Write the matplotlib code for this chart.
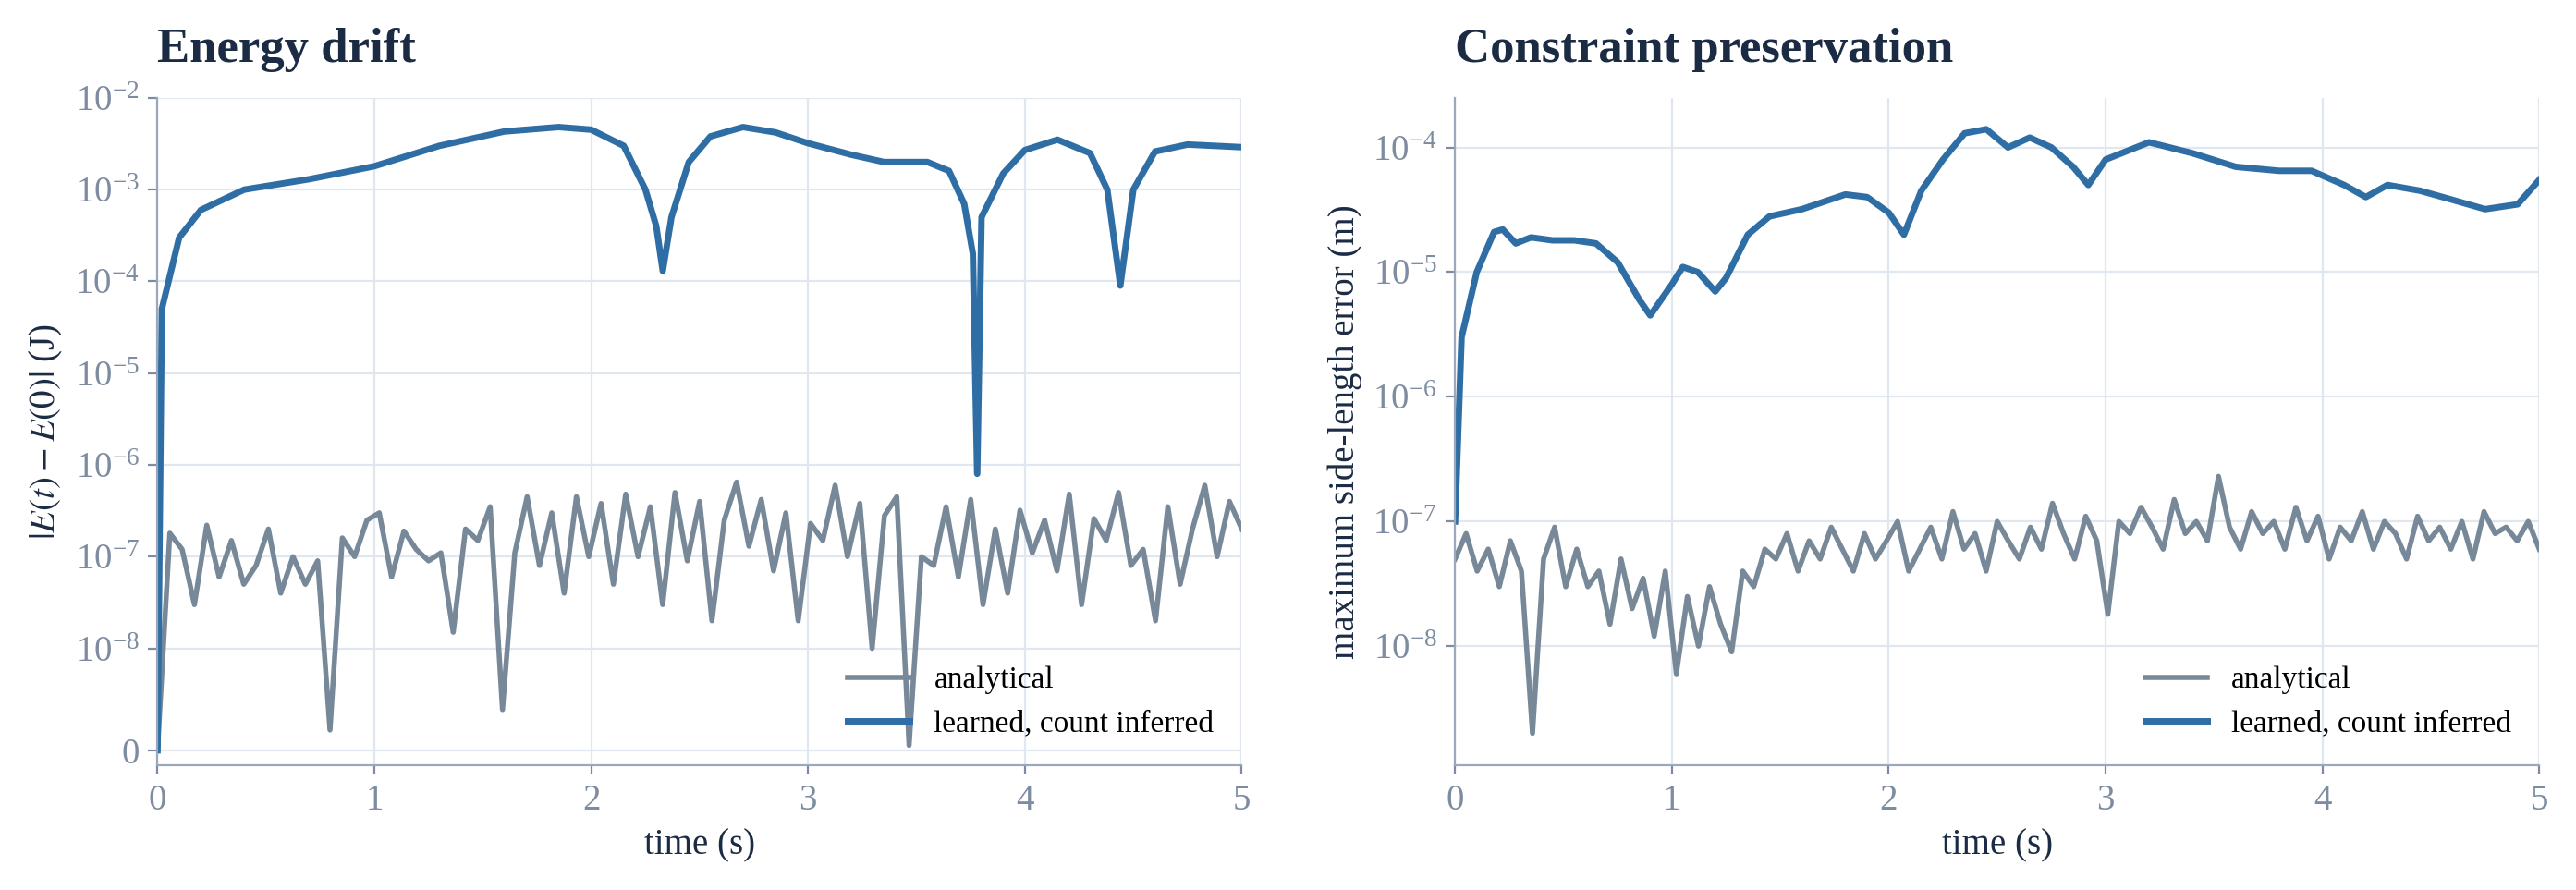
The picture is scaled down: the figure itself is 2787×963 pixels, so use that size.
import matplotlib
matplotlib.use("Agg")
import matplotlib.pyplot as plt
import numpy as np

plt.rcParams["font.family"] = ["Liberation Serif", "DejaVu Serif"]
plt.rcParams["mathtext.fontset"] = "stix"

BLUE = "#2f6ea5"
GRAY = "#778899"
NAVY = "#1b2b44"
TICK = "#7d8ca0"

# energy drift, learned model
e_t = [0, 0.02, 0.1, 0.2, 0.4, 0.7, 1.0, 1.3, 1.6, 1.85, 2.0, 2.15, 2.25, 2.3, 2.33, 2.37, 2.45,
       2.55, 2.7, 2.85, 3.0, 3.2, 3.35, 3.55, 3.65, 3.72, 3.76, 3.78, 3.8, 3.9, 4.0, 4.15, 4.3,
       4.38, 4.44, 4.5, 4.6, 4.75, 5.0]
e_learned = [0, 5e-5, 3e-4, 6e-4, 1e-3, 1.3e-3, 1.8e-3, 3e-3, 4.3e-3, 4.8e-3, 4.5e-3, 3e-3, 1e-3,
             4e-4, 1.3e-4, 5e-4, 2e-3, 3.8e-3, 4.8e-3, 4.2e-3, 3.2e-3, 2.4e-3, 2.0e-3, 2.0e-3,
             1.6e-3, 7e-4, 2e-4, 8e-7, 5e-4, 1.5e-3, 2.7e-3, 3.5e-3, 2.5e-3, 1e-3, 9e-5, 1e-3,
             2.6e-3, 3.1e-3, 2.9e-3]
# energy drift, analytical (units of 1e-7 J)
e_an = [0, 1.8, 1.2, 0.3, 2.2, 0.6, 1.5, 0.5, 0.8, 2.0, 0.4, 1.0, 0.5, 0.9,
        0.02,
        1.6, 1.0, 2.5, 3.0, 0.6, 1.9, 1.2, 0.9, 1.1, 0.15, 2.0, 1.5, 3.5,
        0.04,
        1.1, 4.5, 0.8, 3.0, 0.4, 4.5, 1.0, 3.8, 0.5, 4.8, 1.0, 3.5, 0.3, 5.0, 0.9, 4.0, 0.2,
        2.5, 6.5, 1.3, 4.2, 0.7, 3.0, 0.2, 2.3, 1.5, 6.0, 1.0, 3.8, 0.1, 2.8, 4.5,
        0.005,
        1.0, 0.8, 3.5, 0.6, 4.2, 0.3, 2.0, 0.4, 3.2, 1.1, 2.5, 0.7, 4.8, 0.3, 2.6, 1.5, 5.0,
        0.8, 1.2, 0.2, 3.5, 0.5, 2.0, 6.0, 1.0, 4.0, 2.0]
# constraint preservation, learned model
c_t = [0, 0.03, 0.1, 0.18, 0.22, 0.28, 0.35, 0.45, 0.55, 0.65, 0.75, 0.85, 0.9, 0.95, 1.0, 1.05,
       1.12, 1.2, 1.25, 1.35, 1.45, 1.6, 1.8, 1.9, 2.0, 2.07, 2.15, 2.25, 2.35, 2.45, 2.55, 2.65,
       2.75, 2.85, 2.92, 3.0, 3.2, 3.4, 3.6, 3.8, 3.95, 4.1, 4.2, 4.3, 4.45, 4.6, 4.75, 4.9, 5.0]
c_learned = [1e-7, 3e-6, 1e-5, 2.1e-5, 2.2e-5, 1.7e-5, 1.9e-5, 1.8e-5, 1.8e-5, 1.7e-5, 1.2e-5,
             6e-6, 4.5e-6, 6e-6, 8e-6, 1.1e-5, 1e-5, 7e-6, 9e-6, 2e-5, 2.8e-5, 3.2e-5, 4.2e-5,
             4e-5, 3e-5, 2e-5, 4.5e-5, 8e-5, 1.3e-4, 1.4e-4, 1e-4, 1.2e-4, 1e-4, 7e-5, 5e-5, 8e-5,
             1.1e-4, 9e-5, 7e-5, 6.5e-5, 6.5e-5, 5e-5, 4e-5, 5e-5, 4.5e-5, 3.8e-5, 3.2e-5,
             3.5e-5, 5.5e-5]
# constraint preservation, analytical (units of 1e-8 m)
c_an = [5, 8, 4, 6, 3, 7, 4, 0.2, 5, 9, 3, 6, 3, 4, 1.5, 5, 2, 3.5, 1.2, 4, 0.6, 2.5, 1.0, 3, 1.5,
        0.9, 4, 3, 6, 5, 8, 4, 7, 5, 9, 6, 4, 8, 5, 7, 10, 4, 6, 9, 5, 12, 6, 8, 4, 10, 7, 5, 9,
        6, 14, 8, 5, 11, 7, 1.8, 10, 8, 13, 9, 6, 15, 8, 10, 7, 23, 9, 6, 12, 8, 10, 6, 13, 7,
        11, 5, 9, 7, 12, 6, 10, 8, 5, 11, 7, 9, 6, 10, 5, 12, 8, 9, 7, 10, 6]

fig, axes = plt.subplots(1, 2, figsize=(13.935, 4.815), dpi=200)

for ax in axes:
    ax.grid(True, color="#e1e7ef", linewidth=0.8)
    ax.set_axisbelow(True)
    for s in ["top", "right"]:
        ax.spines[s].set_visible(False)
    for s in ["left", "bottom"]:
        ax.spines[s].set_color("#9aa8ba")
    ax.tick_params(colors=TICK, labelsize=14, direction="out")
    ax.set_xlim(0, 5)
    ax.set_xticks([0, 1, 2, 3, 4, 5])
    ax.set_xlabel("time (s)", fontsize=14, color=NAVY)

ax = axes[0]
ax.plot(np.linspace(0, 5, len(e_an)), np.array(e_an) * 1e-7, color=GRAY, lw=2, label="analytical")
ax.plot(e_t, e_learned, color=BLUE, lw=2.5, label="learned, count inferred")
ax.set_yscale("symlog", linthresh=1e-8, linscale=1)
ax.set_ylim(-1.5e-9, 1e-2)
ax.set_yticks([0, 1e-8, 1e-7, 1e-6, 1e-5, 1e-4, 1e-3, 1e-2])
ax.minorticks_off()
ax.set_ylabel(r"$|E(t)-E(0)|$ (J)", fontsize=14, color=NAVY)
ax.set_title("Energy drift", loc="left", fontsize=19, fontweight="bold", color=NAVY, pad=14)
ax.legend(loc="lower right", frameon=False, fontsize=12)

ax = axes[1]
ax.plot(np.linspace(0, 5, len(c_an)), np.array(c_an) * 1e-8, color=GRAY, lw=2, label="analytical")
ax.plot(c_t, c_learned, color=BLUE, lw=2.5, label="learned, count inferred")
ax.set_yscale("log")
ax.set_ylim(1.1e-9, 2.5e-4)
ax.set_yticks([1e-8, 1e-7, 1e-6, 1e-5, 1e-4])
ax.minorticks_off()
ax.set_ylabel("maximum side-length error (m)", fontsize=14, color=NAVY)
ax.set_title("Constraint preservation", loc="left", fontsize=19, fontweight="bold", color=NAVY, pad=14)
ax.legend(loc="lower right", frameon=False, fontsize=12)

plt.tight_layout(w_pad=3)
fig.savefig("out.png", dpi=200)
